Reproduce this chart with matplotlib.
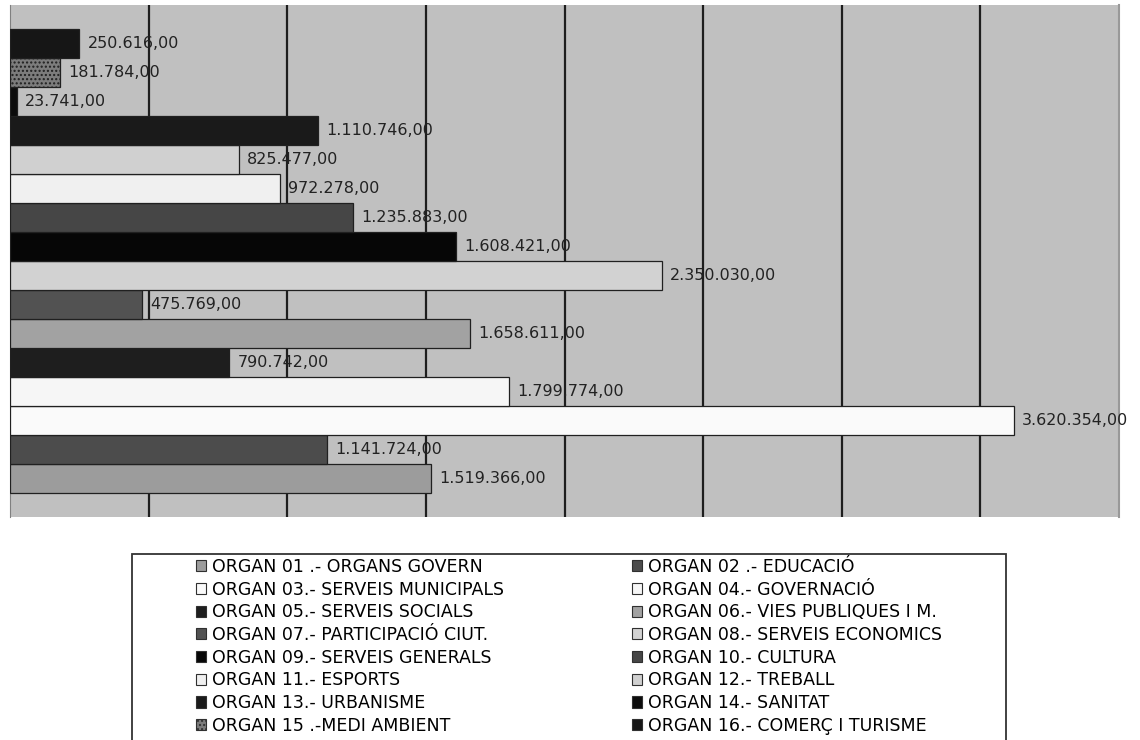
import matplotlib.pyplot as plt
from matplotlib.patches import Patch, Rectangle

plt.rcParams['font.family'] = ['DejaVu Sans']

organs = ['ORGAN 01 .- ORGANS GOVERN', 'ORGAN 02 .- EDUCACIÓ',
          'ORGAN 03.- SERVEIS MUNICIPALS', 'ORGAN 04.- GOVERNACIÓ',
          'ORGAN 05.- SERVEIS SOCIALS', 'ORGAN 06.- VIES PUBLIQUES I M.',
          'ORGAN 07.- PARTICIPACIÓ CIUT.', 'ORGAN 08.- SERVEIS ECONOMICS',
          'ORGAN 09.- SERVEIS GENERALS', 'ORGAN 10.- CULTURA',
          'ORGAN 11.- ESPORTS', 'ORGAN 12.- TREBALL',
          'ORGAN 13.- URBANISME', 'ORGAN 14.- SANITAT',
          'ORGAN 15 .-MEDI AMBIENT', 'ORGAN 16.- COMERÇ I TURISME']
imports = [1519366.00, 1141724.00, 3620354.00, 1799774.00,
           790742.00, 1658611.00, 475769.00, 2350030.00,
           1608421.00, 1235883.00, 972278.00, 825477.00,
           1110746.00, 23741.00, 181784.00, 250616.00]
fills = ['#9c9c9c', '#4c4c4c', '#fafafa', '#f6f6f6',
         '#1e1e1e', '#a2a2a2', '#525252', '#d2d2d2',
         '#060606', '#464646', '#f0f0f0', '#d0d0d0',
         '#1a1a1a', '#0c0c0c', '#7c7c7c', '#161616']
hatches = [''] * 14 + ['....', '']


def fmt_eur(v):
    s = f'{v:,.2f}'
    return s.replace(',', 'X').replace('.', ',').replace('X', '.')


fig = plt.figure(figsize=(11.4, 7.4), dpi=100)
ax = fig.add_axes([10 / 1140, 1 - 517 / 740, 1109 / 1140, 512 / 740])
ax.set_facecolor('#c0c0c0')

plt.rcParams['hatch.color'] = '#aaaaaa'
bars = ax.barh(range(len(imports)), imports, height=1.0, color=fills,
               edgecolor='#202020', linewidth=0.9, zorder=3)
for b, h in zip(bars, hatches):
    b.set_hatch(h)

for i, v in enumerate(imports):
    ax.annotate(fmt_eur(v), (v, i), xytext=(6, 0), textcoords='offset points',
                va='center', ha='left', fontsize=11.5, color='#222222', zorder=4)

ax.set_xlim(0, 4000000)
ax.set_ylim(-1.33, 16.33)
ax.set_xticks(range(500000, 4000000, 500000))
ax.set_yticks([])
ax.xaxis.grid(True, color='#1e1e1e', linewidth=1.6, zorder=1)
ax.tick_params(axis='x', length=0, labelbottom=False)
for side in ['top', 'bottom']:
    ax.spines[side].set_visible(False)
ax.spines['left'].set_color('#808080')
ax.spines['right'].set_color('#999999')
ax.spines['right'].set_linewidth(1.5)

# legend box, cut by the bottom of the figure
fig.patches.append(Rectangle((132 / 1140, -0.05), 874 / 1140, 1 - 554 / 740 + 0.05,
                             transform=fig.transFigure, facecolor='white',
                             edgecolor='#333333', linewidth=1.3))

handles = [Patch(facecolor=fills[k], edgecolor='#303030', linewidth=0.8,
                 hatch=hatches[k]) for k in range(len(organs))]
for col, x0 in [(0, 196), (1, 632)]:
    idx = list(range(col, len(organs), 2))
    fig.legend([handles[k] for k in idx], [organs[k] for k in idx],
               loc='upper left', bbox_to_anchor=(x0 / 1140, 1 - 558 / 740),
               bbox_transform=fig.transFigure, frameon=False, fontsize=12.5,
               handlelength=0.6, handleheight=0.6, handletextpad=0.3,
               labelspacing=0.27, borderpad=0, borderaxespad=0)

fig.savefig('out.png', dpi=100)
